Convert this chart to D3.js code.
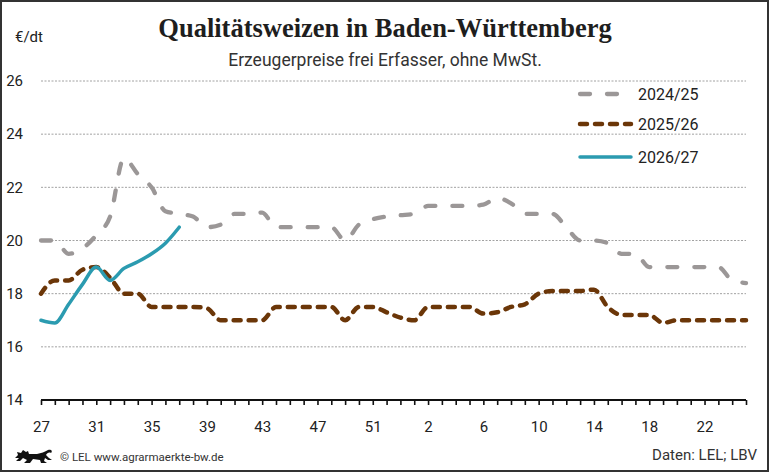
<!DOCTYPE html>
<html>
<head>
<meta charset="utf-8">
<script src="https://cdn.jsdelivr.net/npm/d3@7"></script>
<style>
  html, body { margin: 0; padding: 0; background: #fff; }
  svg { display: block; }
  text { font-family: Roboto, "Liberation Sans", sans-serif; fill: #222; }
</style>
</head>
<body>
<div id="chart"></div>
<script>
// calendar weeks, season starts with week 27 (2026 has 53 weeks)
var weeks = [27, 28, 29, 30, 31, 32, 33, 34, 35, 36, 37, 38, 39, 40, 41, 42, 43, 44, 45, 46,
             47, 48, 49, 50, 51, 52, 53, 1, 2, 3, 4, 5, 6, 7, 8, 9, 10, 11, 12, 13,
             14, 15, 16, 17, 18, 19, 20, 21, 22, 23, 24, 25];
var yTicks = [14, 16, 18, 20, 22, 24, 26];
var seriesNames = ['2024/25', '2025/26', '2026/27'];

// €/dt per week
var price2425 = [20.0, 20.0, 19.5, 19.7, 20.2, 20.9, 23.1, 22.5, 22.0, 21.1, 21.0, 20.9, 20.5, 20.6, 21.0, 21.0, 21.05, 20.5, 20.5, 20.5,
                 20.5, 20.5, 20.0, 20.6, 20.8, 20.9, 20.95, 21.0, 21.3, 21.3, 21.3, 21.3, 21.35, 21.6, 21.4, 21.0, 21.0, 21.0, 20.5, 20.0,
                 20.0, 19.9, 19.5, 19.5, 19.0, 19.0, 19.0, 19.0, 19.0, 19.0, 18.5, 18.4];
var price2526 = [18.0, 18.5, 18.5, 18.9, 19.0, 18.6, 18.0, 18.0, 17.5, 17.5, 17.5, 17.5, 17.45, 17.0, 17.0, 17.0, 17.0, 17.5, 17.5, 17.5,
                 17.5, 17.5, 17.0, 17.5, 17.5, 17.3, 17.1, 17.0, 17.5, 17.5, 17.5, 17.5, 17.25, 17.3, 17.5, 17.6, 18.0, 18.1, 18.1, 18.1,
                 18.15, 17.5, 17.2, 17.2, 17.2, 16.9, 17.0, 17.0, 17.0, 17.0, 17.0, 17.0];
var price2627 = [17.0, 16.9, 17.6, 18.35, 19.0, 18.5, 18.95, 19.2, 19.5, 19.9, 20.5];

var width = 769, height = 472;

var svg = d3.select('#chart')
    .append('svg')
    .attr('width', width)
    .attr('height', height);

// frame
svg.append('rect')
    .attr('x', 1).attr('y', 1)
    .attr('width', width - 2).attr('height', height - 2)
    .attr('fill', '#fff')
    .attr('stroke', '#333')
    .attr('stroke-width', 2);

var x = d3.scaleLinear().domain([0, weeks.length - 1]).range([41, 746]);
var y = d3.scaleLinear().domain([14, 26]).range([400, 81]);

// title + subtitle
svg.append('text')
    .attr('x', 385).attr('y', 37)
    .attr('text-anchor', 'middle')
    .style('font-family', '"Liberation Serif", "DejaVu Serif", serif')
    .style('font-weight', 'bold')
    .style('font-size', '26.5px')
    .style('fill', '#1e1e1e')
    .text('Qualitätsweizen in Baden-Württemberg');

svg.append('text')
    .attr('x', 385).attr('y', 66)
    .attr('text-anchor', 'middle')
    .style('font-size', '17.5px')
    .style('fill', '#333')
    .text('Erzeugerpreise frei Erfasser, ohne MwSt.');

svg.append('text')
    .attr('x', 15).attr('y', 42)
    .style('font-size', '15px')
    .text('€/dt');

// horizontal grid lines
svg.append('g')
    .selectAll('line')
    .data(yTicks.filter(function(d) { return d > 14; }))
    .enter()
    .append('line')
    .attr('x1', x(0)).attr('x2', x(weeks.length - 1))
    .attr('y1', function(d) { return y(d); })
    .attr('y2', function(d) { return y(d); })
    .attr('stroke', '#8a8a8a')
    .attr('stroke-width', 0.8)
    .attr('stroke-dasharray', '2,1.5');

// y labels
var yAxis = d3.axisLeft(y).tickValues(yTicks).tickSize(0).tickPadding(0);
var gy = svg.append('g').attr('transform', 'translate(23,0)').call(yAxis);
gy.select('.domain').remove();
gy.selectAll('text').style('font-size', '15px').style('fill', '#222');

// x axis with a tick per week, label every 4th week
var xAxis = d3.axisBottom(x)
    .tickValues(d3.range(weeks.length))
    .tickSize(5)
    .tickPadding(16)
    .tickFormat(function(i) { return i % 4 === 0 ? weeks[i] : ''; });
var gx = svg.append('g').attr('transform', 'translate(0,' + y(14) + ')').call(xAxis);
gx.select('.domain').attr('d', 'M' + x(0) + ',0H' + x(weeks.length - 1))
    .attr('stroke', '#111').attr('stroke-width', 2);
gx.selectAll('.tick line').attr('stroke', '#111').attr('stroke-width', 1.6);
gx.selectAll('text').style('font-size', '15px').style('fill', '#222');

// lines
var line = d3.line()
    .x(function(d, i) { return x(i); })
    .y(function(d) { return y(d); })
    .curve(d3.curveMonotoneX);

var styles = [
    { data: price2425, color: '#9b9797', width: 4.3, dash: '10,17' },
    { data: price2526, color: '#6b3608', width: 4.5, dash: '7,8' },
    { data: price2627, color: '#2b9bb0', width: 3.5, dash: null }
];

styles.forEach(function(s) {
    svg.append('path')
        .datum(s.data)
        .attr('d', line)
        .attr('fill', 'none')
        .attr('stroke', s.color)
        .attr('stroke-width', s.width)
        .attr('stroke-linecap', 'round')
        .attr('stroke-linejoin', 'round')
        .attr('stroke-dasharray', s.dash);
});

// legend
var legend = svg.append('g')
    .selectAll('g')
    .data(styles)
    .enter()
    .append('g')
    .attr('transform', function(d, i) { return 'translate(578,' + [94, 124, 157][i] + ')'; });

legend.append('line')
    .attr('x1', 2).attr('x2', function(d, i) { return i === 0 ? 42 : 53; })
    .attr('stroke', function(d) { return d.color; })
    .attr('stroke-width', function(d) { return d.width; })
    .attr('stroke-linecap', 'round')
    .attr('stroke-dasharray', function(d) { return d.dash; });

legend.append('text')
    .attr('x', 60).attr('y', 6)
    .style('font-size', '16px')
    .text(function(d, i) { return seriesNames[i]; });

// footer: rough lion silhouette + credits
var lion = svg.append('g').attr('transform', 'translate(15,449)');
lion.append('path')
    .attr('d', 'M0,9 L3,6 L2,3 L6,4 L8,1 L11,3 L13,2 L14,5 L22,5 C26,4 30,3 33,1 C36,0 38,2 36,4 C34,3 32,4 31,6 L34,9 L37,11 L33,11 L30,9 L29,12 L32,14 L26,14 L25,11 L18,10 L15,14 L9,14 L12,11 L8,9 L5,12 L1,12 L4,9 Z')
    .attr('fill', '#111');

svg.append('text')
    .attr('x', 60).attr('y', 461)
    .style('font-size', '11.5px')
    .style('fill', '#333')
    .text('© LEL www.agrarmaerkte-bw.de');

svg.append('text')
    .attr('x', 757).attr('y', 460)
    .attr('text-anchor', 'end')
    .style('font-size', '15px')
    .style('fill', '#333')
    .text('Daten: LEL; LBV');
</script>
</body>
</html>
